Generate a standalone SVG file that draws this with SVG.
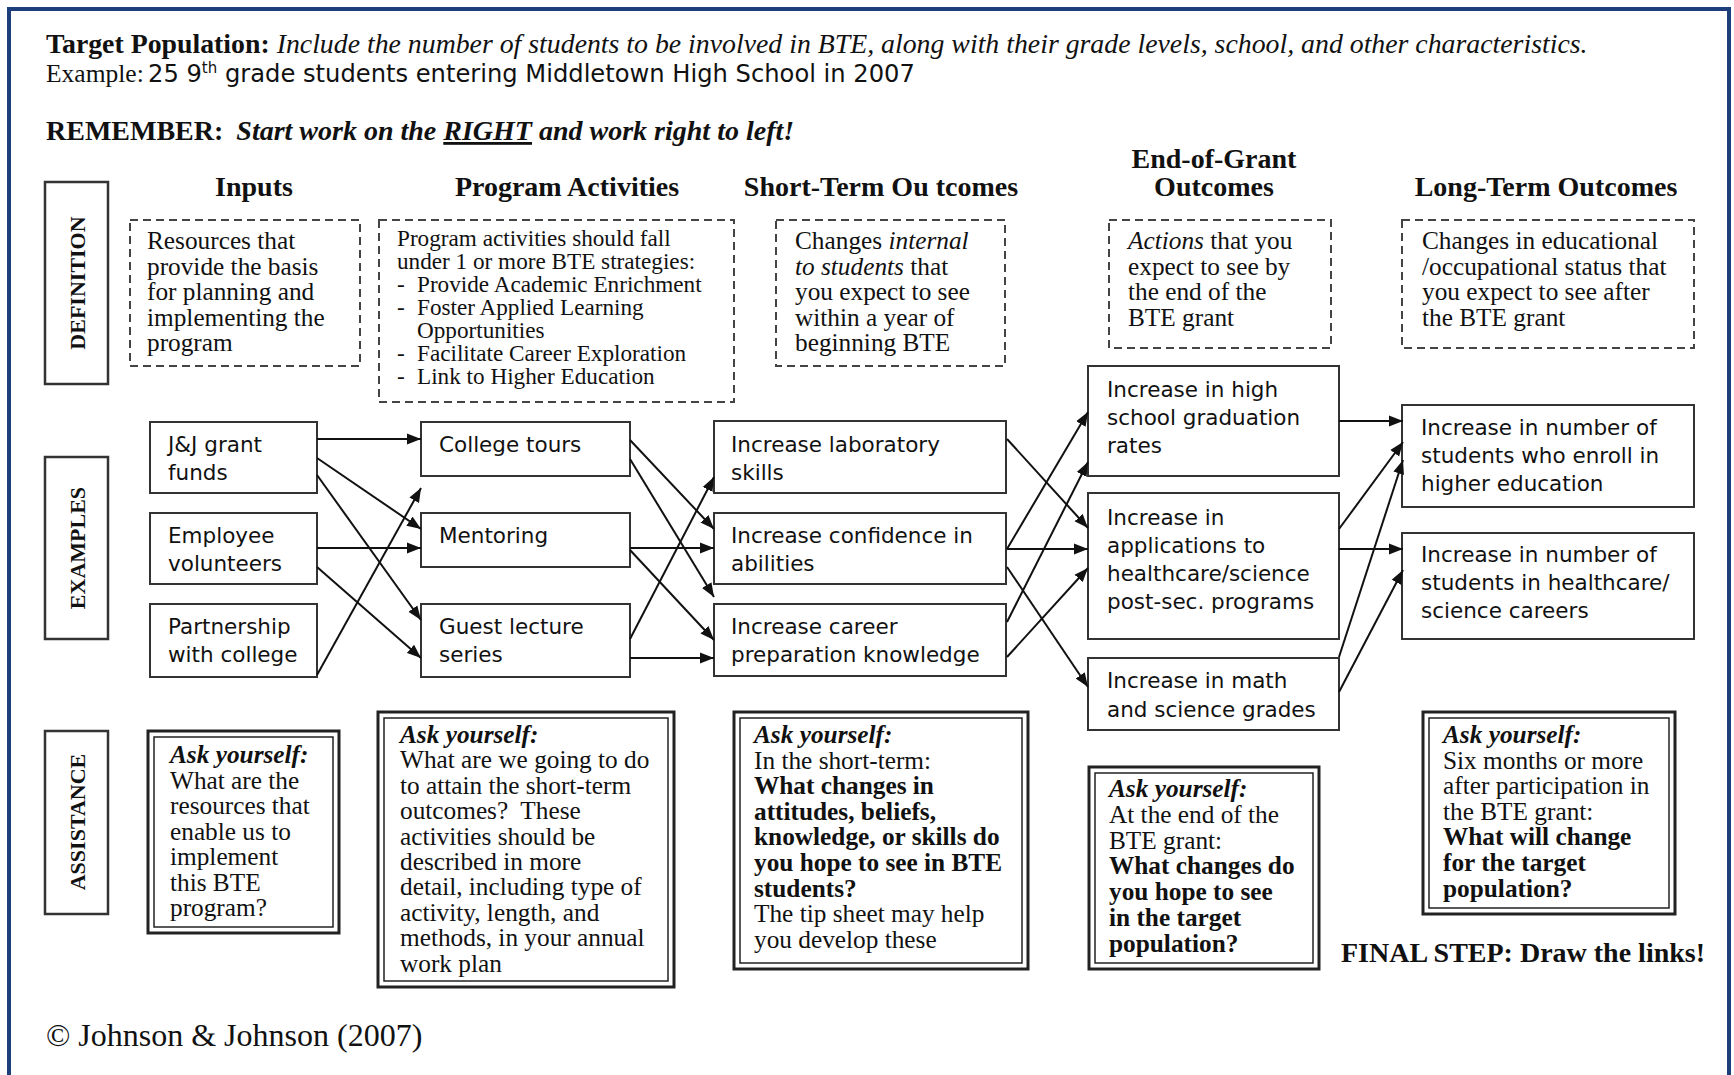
<svg xmlns="http://www.w3.org/2000/svg" width="1734" height="1075" viewBox="0 0 1734 1075">
<style>
.serif{font-family:"Liberation Serif","Times New Roman",serif;fill:#111}
.comic{font-family:"DejaVu Sans","Noto Sans",sans-serif;font-size:21.5px;fill:#111}
.hdr{font-size:28px;font-weight:bold}
.body{font-size:25.3px}
.small{font-size:23.2px}
.lbl{font-size:22px;font-weight:bold}
.dash{fill:#fff;stroke:#444;stroke-width:2;stroke-dasharray:8 5}
.box{fill:#fff;stroke:#333;stroke-width:2}
.rowbox{fill:#fff;stroke:#333;stroke-width:2.5}
.outer{fill:#fff;stroke:#222;stroke-width:3}
.inner{fill:none;stroke:#222;stroke-width:1.5}
.conn line{stroke:#111;stroke-width:2;marker-end:url(#ah)}
.bi{font-weight:bold;font-style:italic}
.b{font-weight:bold}
.i{font-style:italic}
</style>
<defs>
<marker id="ah" markerUnits="userSpaceOnUse" markerWidth="15" markerHeight="12" refX="14" refY="6" orient="auto">
<path d="M0,0.5 L14,6 L0,11.5 z" fill="#111"/>
</marker>
</defs>
<rect x="0" y="0" width="1734" height="1075" fill="#fff"/>
<rect x="9" y="9" width="1720" height="1100" fill="none" stroke="#1c3f7c" stroke-width="4"/>

<g id="header" class="serif">
<text x="46" y="53" style="font-size:27.8px"><tspan class="b">Target Population:</tspan> <tspan class="i">Include the number of students to be involved in BTE, along with their grade levels, school, and other characteristics.</tspan></text>
<text x="46" y="82" style="font-size:25.5px">Example:</text>
<text x="148" y="82" class="comic" style="font-size:24.2px">25 9<tspan font-size="15" dy="-9">th</tspan><tspan dy="9"> grade students entering Middletown High School in 2007</tspan></text>
<text x="46" y="140" style="font-size:28px"><tspan class="b">REMEMBER:</tspan>  <tspan class="bi" dx="6">Start work on the </tspan><tspan class="bi" text-decoration="underline">RIGHT</tspan><tspan class="bi"> and work right to left!</tspan></text>
</g>

<g id="column-headers" class="serif hdr" text-anchor="middle">
<text x="254" y="196">Inputs</text>
<text x="567" y="196">Program Activities</text>
<text x="881" y="196">Short-Term Ou tcomes</text>
<text x="1214" y="168">End-of-Grant</text>
<text x="1214" y="196">Outcomes</text>
<text x="1546" y="196">Long-Term Outcomes</text>
</g>

<g id="row-definition">
<rect class="rowbox" x="45" y="182" width="63" height="202"/>
<text class="serif lbl" text-anchor="middle" transform="translate(77,283) rotate(-90)" y="8">DEFINITION</text>
</g>
<g id="row-examples">
<rect class="rowbox" x="45" y="457" width="63" height="182"/>
<text class="serif lbl" text-anchor="middle" transform="translate(77,548) rotate(-90)" y="8">EXAMPLES</text>
</g>
<g id="row-assistance">
<rect class="rowbox" x="45" y="731" width="63" height="183"/>
<text class="serif lbl" text-anchor="middle" transform="translate(77,822) rotate(-90)" y="8">ASSISTANCE</text>
</g>

<g id="def-inputs">
<rect class="dash" x="130" y="220" width="230" height="146"/>
<text class="serif body" x="147"><tspan x="147" y="249">Resources that</tspan><tspan x="147" y="274.5">provide the basis</tspan><tspan x="147" y="300">for planning and</tspan><tspan x="147" y="325.5">implementing the</tspan><tspan x="147" y="351">program</tspan></text>
</g>
<g id="def-activities">
<rect class="dash" x="379" y="220" width="355" height="182"/>
<text class="serif small"><tspan x="397" y="246">Program activities should fall</tspan><tspan x="397" y="269">under 1 or more BTE strategies:</tspan><tspan x="397" y="292">-</tspan><tspan x="417" y="292">Provide Academic Enrichment</tspan><tspan x="397" y="315">-</tspan><tspan x="417" y="315">Foster Applied Learning</tspan><tspan x="417" y="338">Opportunities</tspan><tspan x="397" y="361">-</tspan><tspan x="417" y="361">Facilitate Career Exploration</tspan><tspan x="397" y="384">-</tspan><tspan x="417" y="384">Link to Higher Education</tspan></text>
</g>
<g id="def-short-term">
<rect class="dash" x="776" y="220" width="229" height="146"/>
<text class="serif body"><tspan x="795" y="249">Changes <tspan class="i">internal</tspan></tspan><tspan x="795" y="274.5"><tspan class="i">to students</tspan> that</tspan><tspan x="795" y="300">you expect to see</tspan><tspan x="795" y="325.5">within a year of</tspan><tspan x="795" y="351">beginning BTE</tspan></text>
</g>
<g id="def-end-of-grant">
<rect class="dash" x="1109" y="220" width="222" height="128"/>
<text class="serif body"><tspan x="1128" y="249"><tspan class="i">Actions</tspan> that you</tspan><tspan x="1128" y="274.5">expect to see by</tspan><tspan x="1128" y="300">the end of the</tspan><tspan x="1128" y="325.5">BTE grant</tspan></text>
</g>
<g id="def-long-term">
<rect class="dash" x="1402" y="220" width="292" height="128"/>
<text class="serif body"><tspan x="1422" y="249">Changes in educational</tspan><tspan x="1422" y="274.5">/occupational status that</tspan><tspan x="1422" y="300">you expect to see after</tspan><tspan x="1422" y="325.5">the BTE grant</tspan></text>
</g>

<g id="in-jj">
<rect class="box" x="150" y="422" width="167" height="71"/>
<text class="comic"><tspan x="168" y="452">J&amp;J grant</tspan><tspan x="168" y="480">funds</tspan></text>
</g>
<g id="in-employee">
<rect class="box" x="150" y="513" width="167" height="71"/>
<text class="comic"><tspan x="168" y="543">Employee</tspan><tspan x="168" y="571">volunteers</tspan></text>
</g>
<g id="in-partnership">
<rect class="box" x="150" y="604" width="167" height="73"/>
<text class="comic"><tspan x="168" y="634">Partnership</tspan><tspan x="168" y="662">with college</tspan></text>
</g>
<g id="act-tours">
<rect class="box" x="421" y="422" width="209" height="54"/>
<text class="comic" x="439" y="452">College tours</text>
</g>
<g id="act-mentoring">
<rect class="box" x="421" y="513" width="209" height="54"/>
<text class="comic" x="439" y="543">Mentoring</text>
</g>
<g id="act-guest">
<rect class="box" x="421" y="604" width="209" height="73"/>
<text class="comic"><tspan x="439" y="634">Guest lecture</tspan><tspan x="439" y="662">series</tspan></text>
</g>
<g id="st-lab">
<rect class="box" x="714" y="421" width="292" height="72"/>
<text class="comic"><tspan x="731" y="452">Increase laboratory</tspan><tspan x="731" y="480">skills</tspan></text>
</g>
<g id="st-confidence">
<rect class="box" x="714" y="513" width="292" height="71"/>
<text class="comic"><tspan x="731" y="543">Increase confidence in</tspan><tspan x="731" y="571">abilities</tspan></text>
</g>
<g id="st-career">
<rect class="box" x="714" y="604" width="292" height="72"/>
<text class="comic"><tspan x="731" y="634">Increase career</tspan><tspan x="731" y="662">preparation knowledge</tspan></text>
</g>
<g id="eg-graduation">
<rect class="box" x="1088" y="366" width="251" height="110"/>
<text class="comic"><tspan x="1107" y="397">Increase in high</tspan><tspan x="1107" y="425">school graduation</tspan><tspan x="1107" y="453">rates</tspan></text>
</g>
<g id="eg-applications">
<rect class="box" x="1088" y="493" width="251" height="146"/>
<text class="comic"><tspan x="1107" y="525">Increase in</tspan><tspan x="1107" y="553">applications to</tspan><tspan x="1107" y="581">healthcare/science</tspan><tspan x="1107" y="609">post-sec. programs</tspan></text>
</g>
<g id="eg-grades">
<rect class="box" x="1088" y="658" width="251" height="72"/>
<text class="comic"><tspan x="1107" y="688">Increase in math</tspan><tspan x="1107" y="717">and science grades</tspan></text>
</g>
<g id="lt-enroll">
<rect class="box" x="1402" y="405" width="292" height="102"/>
<text class="comic"><tspan x="1421" y="435">Increase in number of</tspan><tspan x="1421" y="463">students who enroll in</tspan><tspan x="1421" y="491">higher education</tspan></text>
</g>
<g id="lt-careers">
<rect class="box" x="1402" y="533" width="292" height="106"/>
<text class="comic"><tspan x="1421" y="562">Increase in number of</tspan><tspan x="1421" y="590">students in healthcare/</tspan><tspan x="1421" y="618">science careers</tspan></text>
</g>

<g id="connectors" class="conn">
<line x1="317" y1="439" x2="421" y2="439"/>
<line x1="317" y1="458" x2="421" y2="529"/>
<line x1="317" y1="475" x2="421" y2="620"/>
<line x1="317" y1="548" x2="421" y2="548"/>
<line x1="317" y1="567" x2="421" y2="658"/>
<line x1="317" y1="675" x2="421" y2="488"/>
<line x1="630" y1="440" x2="714" y2="529"/>
<line x1="630" y1="459" x2="714" y2="597"/>
<line x1="630" y1="548" x2="714" y2="548"/>
<line x1="630" y1="550" x2="714" y2="640"/>
<line x1="630" y1="639" x2="714" y2="477"/>
<line x1="630" y1="658" x2="714" y2="658"/>
<line x1="1007" y1="439" x2="1088" y2="528"/>
<line x1="1007" y1="549" x2="1088" y2="412"/>
<line x1="1007" y1="549" x2="1088" y2="549"/>
<line x1="1007" y1="567" x2="1088" y2="687"/>
<line x1="1007" y1="622" x2="1088" y2="462"/>
<line x1="1007" y1="657" x2="1088" y2="568"/>
<line x1="1339" y1="421" x2="1403" y2="421"/>
<line x1="1339" y1="529" x2="1403" y2="442"/>
<line x1="1339" y1="549" x2="1403" y2="549"/>
<line x1="1339" y1="657" x2="1403" y2="460"/>
<line x1="1339" y1="692" x2="1403" y2="570"/>
</g>

<g id="ask-inputs">
<rect class="outer" x="148" y="731" width="191" height="202"/>
<rect class="inner" x="154" y="737" width="179" height="190"/>
<text class="serif body"><tspan class="bi" x="170" y="763">Ask yourself:</tspan><tspan x="170" y="788.5">What are the</tspan><tspan x="170" y="814">resources that</tspan><tspan x="170" y="839.5">enable us to</tspan><tspan x="170" y="865">implement</tspan><tspan x="170" y="890.5">this BTE</tspan><tspan x="170" y="916">program?</tspan></text>
</g>
<g id="ask-activities">
<rect class="outer" x="378" y="712" width="296" height="275"/>
<rect class="inner" x="384" y="718" width="284" height="263"/>
<text class="serif body"><tspan class="bi" x="400" y="743">Ask yourself:</tspan><tspan x="400" y="768.4">What are we going to do</tspan><tspan x="400" y="793.8">to attain the short-term</tspan><tspan x="400" y="819.2">outcomes?&#160; These</tspan><tspan x="400" y="844.6">activities should be</tspan><tspan x="400" y="870">described in more</tspan><tspan x="400" y="895.4">detail, including type of</tspan><tspan x="400" y="920.8">activity, length, and</tspan><tspan x="400" y="946.2">methods, in your annual</tspan><tspan x="400" y="971.6">work plan</tspan></text>
</g>
<g id="ask-short-term">
<rect class="outer" x="734" y="712" width="294" height="257"/>
<rect class="inner" x="740" y="718" width="282" height="245"/>
<text class="serif body"><tspan class="bi" x="754" y="743">Ask yourself:</tspan><tspan x="754" y="768.6">In the short-term:</tspan><tspan class="b" x="754" y="794.2">What changes in</tspan><tspan class="b" x="754" y="819.8">attitudes, beliefs,</tspan><tspan class="b" x="754" y="845.4">knowledge, or skills do</tspan><tspan class="b" x="754" y="871">you hope to see in BTE</tspan><tspan class="b" x="754" y="896.6">students?</tspan><tspan x="754" y="922.2">The tip sheet may help</tspan><tspan x="754" y="947.8">you develop these</tspan></text>
</g>
<g id="ask-end-of-grant">
<rect class="outer" x="1089" y="767" width="230" height="202"/>
<rect class="inner" x="1095" y="773" width="218" height="190"/>
<text class="serif body"><tspan class="bi" x="1109" y="797">Ask yourself:</tspan><tspan x="1109" y="822.8">At the end of the</tspan><tspan x="1109" y="848.6">BTE grant:</tspan><tspan class="b" x="1109" y="874.4">What changes do</tspan><tspan class="b" x="1109" y="900.2">you hope to see</tspan><tspan class="b" x="1109" y="926">in the target</tspan><tspan class="b" x="1109" y="951.8">population?</tspan></text>
</g>
<g id="ask-long-term">
<rect class="outer" x="1423" y="712" width="252" height="202"/>
<rect class="inner" x="1429" y="718" width="240" height="190"/>
<text class="serif body"><tspan class="bi" x="1443" y="743">Ask yourself:</tspan><tspan x="1443" y="768.6">Six months or more</tspan><tspan x="1443" y="794.2">after participation in</tspan><tspan x="1443" y="819.8">the BTE grant:</tspan><tspan class="b" x="1443" y="845.4">What will change</tspan><tspan class="b" x="1443" y="871">for the target</tspan><tspan class="b" x="1443" y="896.6">population?</tspan></text>
</g>

<g id="footer" class="serif">
<text x="1341" y="962" style="font-size:28px;font-weight:bold">FINAL STEP: Draw the links!</text>
<text x="46" y="1046" style="font-size:32px">© Johnson &amp; Johnson (2007)</text>
</g>
</svg>
